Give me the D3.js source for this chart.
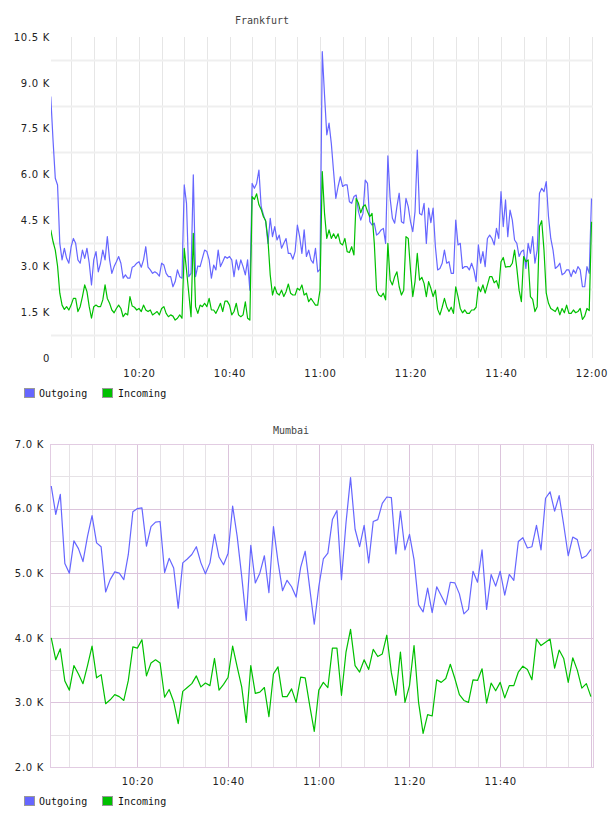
<!DOCTYPE html>
<html>
<head>
<meta charset="utf-8">
<script src="https://cdn.jsdelivr.net/npm/d3@7"></script>
<style>
  body { margin: 0; background: #fff; }
  .tick text { font-family: "DejaVu Sans", sans-serif; font-size: 10px; letter-spacing: 0.7px; fill: #222; }
</style>
</head>
<body>
<script>
// Frankfurt, one sample every 30 s from 10:00:30 to 12:00 (values in K)
var frankfurtOutgoing = [
  8.55, 7.13, 5.88, 5.66, 3.75, 3.21, 3.59, 3.26, 3.10, 3.64,
  3.91, 3.75, 3.21, 3.10, 3.53, 3.26, 3.59, 3.10, 2.39, 3.21,
  3.48, 2.82, 3.10, 3.53, 3.21, 3.97, 3.21, 2.77, 2.99, 3.15,
  3.32, 3.10, 2.61, 2.72, 2.61, 2.61, 2.97, 3.01, 3.10, 3.15,
  2.97, 3.21, 3.64, 2.97, 2.88, 2.77, 2.82, 2.77, 2.68, 3.10,
  3.04, 2.77, 2.66, 2.66, 2.33, 2.50, 2.88, 2.66, 2.61, 5.66,
  5.06, 2.66, 2.77, 5.99, 2.66, 3.01, 2.99, 3.26, 3.53, 3.48,
  3.21, 2.61, 3.04, 2.88, 3.53, 2.99, 3.15, 3.32, 3.26, 3.32,
  3.21, 2.66, 3.21, 2.88, 3.21, 2.99, 2.72, 3.21, 2.22, 5.71,
  5.55, 5.71, 6.15, 4.95, 4.68, 4.46, 3.75, 4.57, 3.97, 4.30,
  3.86, 4.02, 3.59, 3.75, 3.91, 3.42, 3.42, 3.23, 3.48, 4.35,
  3.97, 3.42, 4.19, 3.32, 3.53, 3.21, 3.10, 3.59, 2.82, 2.90,
  10.02, 8.60, 7.30, 7.68, 7.02, 6.10, 5.22, 5.61, 5.93, 5.61,
  5.66, 5.66, 5.11, 5.06, 5.28, 5.33, 4.79, 4.51, 4.73, 5.82,
  5.71, 4.46, 4.35, 4.41, 4.02, 4.08, 4.19, 4.24, 3.75, 6.61,
  5.22, 4.57, 4.41, 4.95, 5.39, 4.46, 4.41, 5.22, 4.95, 4.46,
  4.13, 4.79, 6.80, 4.73, 4.68, 5.06, 3.75, 4.90, 4.43, 4.90,
  3.64, 2.88, 2.93, 3.10, 3.53, 3.10, 3.15, 2.77, 2.77, 4.51,
  3.70, 3.75, 2.93, 2.99, 2.99, 2.88, 3.10, 2.88, 2.50, 3.70,
  3.10, 3.48, 2.99, 3.91, 4.02, 3.91, 3.70, 4.24, 3.91, 5.44,
  4.30, 5.17, 3.97, 4.84, 4.51, 3.86, 3.75, 3.32, 3.48, 3.53,
  2.93, 3.75, 3.42, 3.97, 3.10, 3.53, 5.39, 5.55, 5.44, 5.77,
  4.62, 3.91, 3.53, 2.93, 2.99, 3.10, 2.72, 2.77, 2.88, 2.88,
  2.66, 2.88, 2.77, 2.99, 2.88, 2.33, 2.33, 2.99, 2.77, 5.22
];
var frankfurtIncoming = [
  4.19, 3.81, 3.53, 3.01, 2.12, 1.73, 1.59, 1.68, 1.57, 1.73,
  1.95, 1.95, 1.52, 1.68, 2.01, 2.39, 2.17, 1.68, 1.30, 1.68,
  1.73, 1.68, 1.68, 1.90, 2.39, 1.95, 1.79, 1.57, 1.48, 1.62,
  1.73, 1.62, 1.35, 1.46, 1.41, 2.01, 1.70, 1.66, 1.57, 1.62,
  1.52, 1.73, 1.57, 1.52, 1.57, 1.41, 1.46, 1.52, 1.41, 1.62,
  1.68, 1.46, 1.35, 1.41, 1.37, 1.24, 1.30, 1.41, 1.30, 3.59,
  2.88, 2.12, 1.35, 4.08, 1.68, 1.46, 1.73, 1.68, 1.79, 1.68,
  1.95, 1.57, 1.57, 1.46, 1.62, 1.79, 1.52, 1.86, 1.86, 1.73,
  1.41, 1.52, 1.79, 1.41, 1.35, 1.41, 1.84, 1.30, 1.24, 5.28,
  5.19, 5.37, 5.01, 4.86, 4.62, 4.49, 3.86, 2.72, 2.06, 2.33,
  2.12, 2.06, 2.22, 2.01, 2.17, 2.42, 2.12, 2.06, 2.06, 2.28,
  2.22, 2.39, 2.06, 2.12, 1.84, 1.95, 1.84, 1.73, 1.73, 2.22,
  6.10, 4.73, 3.91, 4.19, 3.91, 4.06, 3.91, 4.06, 3.75, 3.70,
  3.91, 3.48, 3.45, 3.64, 3.37, 5.22, 5.06, 4.75, 4.95, 5.01,
  4.79, 4.62, 4.73, 3.75, 2.22, 2.06, 2.01, 2.12, 1.90, 3.75,
  2.55, 2.39, 2.66, 2.82, 2.33, 2.06, 2.22, 3.97, 3.91, 2.88,
  2.01, 2.50, 3.42, 2.55, 2.64, 2.44, 2.01, 2.50, 2.28, 2.01,
  2.22, 1.59, 1.41, 1.66, 1.95, 1.68, 1.52, 1.66, 1.46, 2.33,
  2.01, 1.62, 1.48, 1.57, 1.46, 1.46, 1.57, 1.57, 1.66, 2.33,
  2.17, 2.39, 2.12, 2.39, 2.66, 2.66, 2.46, 2.53, 2.28, 3.15,
  3.29, 2.97, 2.99, 2.99, 3.10, 3.53, 2.93, 2.22, 1.84, 3.32,
  3.15, 3.21, 2.01, 1.92, 1.52, 1.68, 4.30, 4.49, 3.53, 2.12,
  1.79, 1.62, 1.57, 1.52, 1.66, 1.41, 1.62, 1.48, 1.73, 1.46,
  1.46, 1.57, 1.48, 1.52, 1.62, 1.26, 1.37, 1.62, 1.55, 4.46
];

// Mumbai, one sample per minute from 10:01 to 12:00 (values in K)
var mumbaiOutgoing = [
  6.35, 5.91, 6.22, 5.15, 5.00, 5.50, 5.38, 5.18, 5.57, 5.89,
  5.47, 5.41, 4.71, 4.90, 5.02, 5.00, 4.90, 5.29, 5.95, 6.00,
  6.01, 5.42, 5.72, 5.79, 5.80, 5.01, 5.23, 5.08, 4.46, 5.16,
  5.22, 5.29, 5.41, 5.16, 4.99, 5.16, 5.60, 5.25, 5.13, 5.31,
  6.04, 5.57, 4.95, 4.27, 5.43, 4.85, 5.00, 5.27, 4.70, 5.72,
  5.18, 4.73, 4.89, 4.79, 4.63, 5.09, 5.34, 4.77, 4.21, 4.79,
  5.22, 5.31, 5.83, 5.97, 4.90, 5.78, 6.48, 5.68, 5.41, 5.74,
  5.16, 5.80, 5.83, 6.08, 6.18, 6.17, 5.30, 5.96, 5.36, 5.60,
  5.21, 4.51, 4.40, 4.77, 4.39, 4.79, 4.65, 4.51, 4.86, 4.85,
  4.68, 4.37, 4.44, 5.03, 4.86, 5.36, 4.44, 4.98, 4.80, 5.03,
  4.66, 4.98, 4.89, 5.49, 5.55, 5.39, 5.41, 5.74, 5.36, 6.16,
  6.26, 5.96, 6.20, 5.75, 5.27, 5.56, 5.52, 5.23, 5.27, 5.37
];
var mumbaiIncoming = [
  4.00, 3.66, 3.83, 3.33, 3.19, 3.57, 3.44, 3.29, 3.57, 3.87,
  3.38, 3.43, 2.98, 3.04, 3.12, 3.09, 3.03, 3.34, 3.86, 3.84,
  3.97, 3.41, 3.61, 3.66, 3.61, 3.08, 3.20, 3.01, 2.67, 3.17,
  3.23, 3.29, 3.41, 3.24, 3.30, 3.26, 3.68, 3.19, 3.28, 3.39,
  3.87, 3.55, 3.24, 2.69, 3.57, 3.14, 3.16, 3.23, 2.78, 3.44,
  3.55, 3.09, 3.09, 3.21, 3.00, 3.39, 3.38, 2.95, 2.55, 3.19,
  3.31, 3.23, 3.84, 3.84, 3.11, 3.78, 4.13, 3.57, 3.47, 3.66,
  3.51, 3.82, 3.71, 3.75, 4.04, 3.46, 3.11, 3.78, 3.00, 3.26,
  3.88, 3.00, 2.52, 2.81, 2.79, 3.35, 3.31, 3.37, 3.59, 3.37,
  3.12, 3.03, 3.00, 3.35, 3.34, 3.52, 2.99, 3.30, 3.18, 3.31,
  3.07, 3.26, 3.26, 3.47, 3.56, 3.51, 3.35, 3.98, 3.88, 3.93,
  3.98, 3.53, 3.81, 3.68, 3.31, 3.69, 3.50, 3.22, 3.29, 3.09
];

var seriesNames = ['Outgoing', 'Incoming'];
var seriesColors = ['#6666ff', '#00c000'];

var frankfurtYTicks = [0, 1.5, 3, 4.5, 6, 7.5, 9, 10.5];
var mumbaiYTicks = [2, 3, 4, 5, 6, 7];
var frankfurtXTicks = ['10:20', '10:40', '11:00', '11:20', '11:40', '12:00'];
var mumbaiXTicks = ['10:20', '10:40', '11:00', '11:20', '11:40'];

var parseTime = d3.utcParse('%H:%M');
var t0 = parseTime('10:00');
var t1 = parseTime('12:00');
var frankfurtTimes = d3.range(1, frankfurtOutgoing.length + 1).map(function(i) { return d3.utcSecond.offset(t0, i * 30); });
var mumbaiTimes = d3.range(1, mumbaiOutgoing.length + 1).map(function(i) { return d3.utcMinute.offset(t0, i); });

var fmtK = function(d) { return d === 0 ? '0' : d3.format('.1f')(d) + ' K'; };

var svg = d3.select('body').append('svg')
            .attr('width', 608)
            .attr('height', 816);

function drawChart(c) {
  var g = svg.append('g');
  var x = d3.scaleUtc().domain([t0, t1]).range(c.xRange);
  var y = d3.scaleLinear().domain(c.yDomain).range([c.bottom, c.top]);

  // grid
  var fives = d3.utcMinute.every(5).range(d3.utcMinute.offset(t0, 5), d3.utcMinute.offset(t1, 1));
  g.append('g').selectAll('line')
    .data(fives.filter(function(d) { return x(d) <= c.right; }))
    .enter().append('line')
    .attr('x1', function(d) { return Math.round(x(d)) + 0.5; })
    .attr('x2', function(d) { return Math.round(x(d)) + 0.5; })
    .attr('y1', c.top).attr('y2', c.bottom)
    .style('stroke', function(d) { return c.major && d.getUTCMinutes() % 20 === 0 ? c.majorColor : c.minorColor; })
    .style('stroke-width', 1);

  g.append('g').selectAll('line')
    .data(c.hGrid)
    .enter().append('line')
    .attr('x1', c.left).attr('x2', c.right)
    .attr('y1', function(d) { return Math.round(y(d)) + 0.5; })
    .attr('y2', function(d) { return Math.round(y(d)) + 0.5; })
    .style('stroke', function(d) { return c.major && d % 1 === 0 ? c.majorColor : c.hColor; })
    .style('stroke-width', c.hWidth);

  if (c.border) {
    g.append('rect')
      .attr('x', c.left + 0.5).attr('y', c.top + 0.5)
      .attr('width', c.right - c.left).attr('height', c.bottom - c.top)
      .style('fill', 'none')
      .style('stroke', c.border);
  }

  // series
  var clipId = 'clip-' + c.title;
  g.append('clipPath').attr('id', clipId)
    .append('rect')
    .attr('x', c.left).attr('y', c.top - 2)
    .attr('width', c.right - c.left + 1).attr('height', c.bottom - c.top + 2);

  var line = d3.line()
               .x(function(d) { return x(d[0]); })
               .y(function(d) { return y(d[1]); });

  c.series.forEach(function(vals, i) {
    g.append('path')
      .datum(d3.zip(c.times, vals))
      .attr('clip-path', 'url(#' + clipId + ')')
      .attr('d', line)
      .style('fill', 'none')
      .style('stroke', seriesColors[i])
      .style('stroke-width', 1.2)
      .style('stroke-linejoin', 'round');
  });

  // axes
  var yAxis = g.append('g')
    .attr('transform', 'translate(' + c.yLabelX + ',0)')
    .call(d3.axisLeft(y).tickValues(c.yTicks).tickSize(0).tickPadding(0).tickFormat(fmtK));
  yAxis.select('.domain').remove();

  var xAxis = g.append('g')
    .attr('transform', 'translate(0,' + c.bottom + ')')
    .call(d3.axisBottom(x).tickValues(c.xTicks.map(parseTime)).tickSize(0).tickPadding(c.xPad).tickFormat(d3.utcFormat('%H:%M')));
  xAxis.select('.domain').remove();

  // title
  g.append('text')
    .attr('x', c.titleX).attr('y', c.titleY)
    .attr('text-anchor', 'middle')
    .style('font-family', '"DejaVu Sans Mono", monospace')
    .style('font-size', '10px')
    .style('fill', '#444')
    .text(c.title);

  // legend
  var lg = g.append('g').attr('transform', 'translate(0,' + c.legendY + ')');
  seriesNames.forEach(function(name, i) {
    lg.append('rect')
      .attr('x', 24.5 + i * 78).attr('y', 0.5)
      .attr('width', 10).attr('height', 9)
      .style('fill', seriesColors[i])
      .style('stroke', '#999');
    lg.append('text')
      .attr('x', 39 + i * 79).attr('y', 8.5)
      .style('font-family', '"DejaVu Sans Mono", monospace')
      .style('font-size', '10px')
      .style('fill', '#111')
      .text(name);
  });
}

drawChart({
  title: 'Frankfurt', titleX: 262, titleY: 24,
  left: 51, right: 593, top: 37, bottom: 358,
  xRange: [48.5, 591.5], yDomain: [0, 10.5],
  yTicks: frankfurtYTicks, yLabelX: 50,
  hGrid: frankfurtYTicks.slice(1).map(function(v, i) { return (v + frankfurtYTicks[i]) / 2; }),
  hColor: '#efefef', hWidth: 2, minorColor: '#e6e6e6',
  xTicks: frankfurtXTicks, xPad: 12,
  times: frankfurtTimes, series: [frankfurtOutgoing, frankfurtIncoming],
  legendY: 388
});

drawChart({
  title: 'Mumbai', titleX: 291, titleY: 434,
  left: 50, right: 593, top: 444, bottom: 767,
  xRange: [46.7, 590.9], yDomain: [2, 7],
  yTicks: mumbaiYTicks, yLabelX: 44,
  hGrid: d3.range(2.5, 7, 0.5),
  hColor: '#e6e2e6', hWidth: 1, minorColor: '#e6e2e6',
  major: true, majorColor: '#dcc4dc', border: '#e2cce2',
  xTicks: mumbaiXTicks, xPad: 11,
  times: mumbaiTimes, series: [mumbaiOutgoing, mumbaiIncoming],
  legendY: 796
});
</script>
</body>
</html>
